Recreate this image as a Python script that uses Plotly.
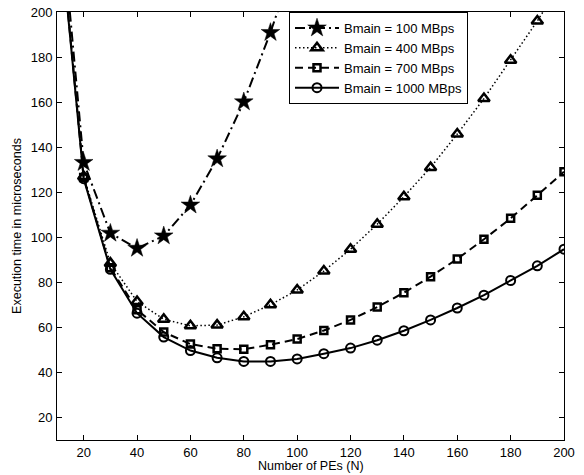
import plotly.graph_objects as go

N = [10, 20, 30, 40, 50, 60, 70, 80, 90, 100, 110, 120, 130, 140, 150, 160, 170, 180, 190, 200]

t_100 = [262, 133.2, 101.8, 95.1, 100.6, 114.3, 134.8, 160.1, 190.9, 226]
t_400 = [253, 127, 88.5, 71.5, 63.6, 60.7, 61.0, 64.7, 70.0, 76.6, 85.0, 94.7, 105.8, 118.0,
         131.0, 145.8, 161.6, 178.6, 196.0, 215]
t_700 = [251, 126.5, 86.5, 67.8, 57.9, 52.6, 50.5, 50.3, 52.3, 54.8, 58.6, 63.3, 69.0, 75.4,
         82.5, 90.4, 99.1, 108.4, 118.6, 129.1]
t_1000 = [250, 126, 85.8, 66.3, 55.7, 49.7, 46.5, 44.9, 44.9, 46.0, 48.3, 50.8, 54.3, 58.5,
          63.3, 68.6, 74.3, 80.8, 87.3, 94.7]

names = ["Bmain = 100 MBps", "Bmain = 400 MBps", "Bmain = 700 MBps", "Bmain = 1000 MBps"]
x_ticks = [20, 40, 60, 80, 100, 120, 140, 160, 180, 200]
y_ticks = [20, 40, 60, 80, 100, 120, 140, 160, 180, 200]
x_title = "Number of PEs (N)"
y_title = "Execution time in microseconds"

FONT = "Liberation Sans, Arial, Helvetica, sans-serif"

fig = go.Figure()
fig.add_trace(go.Scatter(x=N[:len(t_100)], y=t_100, name=names[0], mode="lines+markers",
                         line=dict(color="black", width=2, dash="10px,4px,2px,4px"),
                         marker=dict(symbol="star", size=14, color="black",
                                     line=dict(color="black", width=0.5))))
fig.add_trace(go.Scatter(x=N, y=t_400, name=names[1], mode="lines+markers",
                         line=dict(color="black", width=1.5, dash="1.5px,2.5px"),
                         marker=dict(symbol="triangle-up-open", size=10, color="black",
                                     line=dict(color="black", width=2.5))))
fig.add_trace(go.Scatter(x=N, y=t_700, name=names[2], mode="lines+markers",
                         line=dict(color="black", width=2, dash="8px,5px"),
                         marker=dict(symbol="square-open", size=7, color="black",
                                     line=dict(color="black", width=2.5))))
fig.add_trace(go.Scatter(x=N, y=t_1000, name=names[3], mode="lines+markers",
                         line=dict(color="black", width=2),
                         marker=dict(symbol="circle-open", size=9, color="black",
                                     line=dict(color="black", width=2))))

axis_common = dict(showgrid=False, zeroline=False, showline=True, linecolor="black",
                   linewidth=1, mirror="ticks", ticks="inside", ticklen=5,
                   tickcolor="black", tickwidth=1, automargin=False,
                   tickfont=dict(family=FONT, size=13, color="black"))

fig.update_xaxes(range=[10, 200], tickvals=x_ticks, **axis_common)
fig.update_yaxes(range=[10, 200], tickvals=y_ticks, ticklabelstandoff=1,
                 title=dict(text=y_title, standoff=6,
                            font=dict(family=FONT, size=12.5, color="black")),
                 **axis_common)

fig.add_annotation(text=x_title, xref="paper", yref="paper", x=0.5, y=-0.0607,
                   xanchor="center", yanchor="middle", showarrow=False,
                   font=dict(family=FONT, size=12.5, color="black"))

fig.update_layout(
    width=584, height=475,
    margin=dict(l=57, r=20, t=12, b=35),
    paper_bgcolor="white", plot_bgcolor="white",
    font=dict(family=FONT, size=12.5, color="black"),
    showlegend=True,
    legend=dict(x=0.4576, y=1.0, xanchor="left", yanchor="top",
                bgcolor="white", bordercolor="black", borderwidth=1,
                font=dict(family=FONT, size=13, color="black"),
                tracegroupgap=0, itemwidth=44),
)

fig.write_html("out.html", config={"displayModeBar": False},
               post_script="document.body.style.margin='0';document.body.style.overflow='hidden';")
